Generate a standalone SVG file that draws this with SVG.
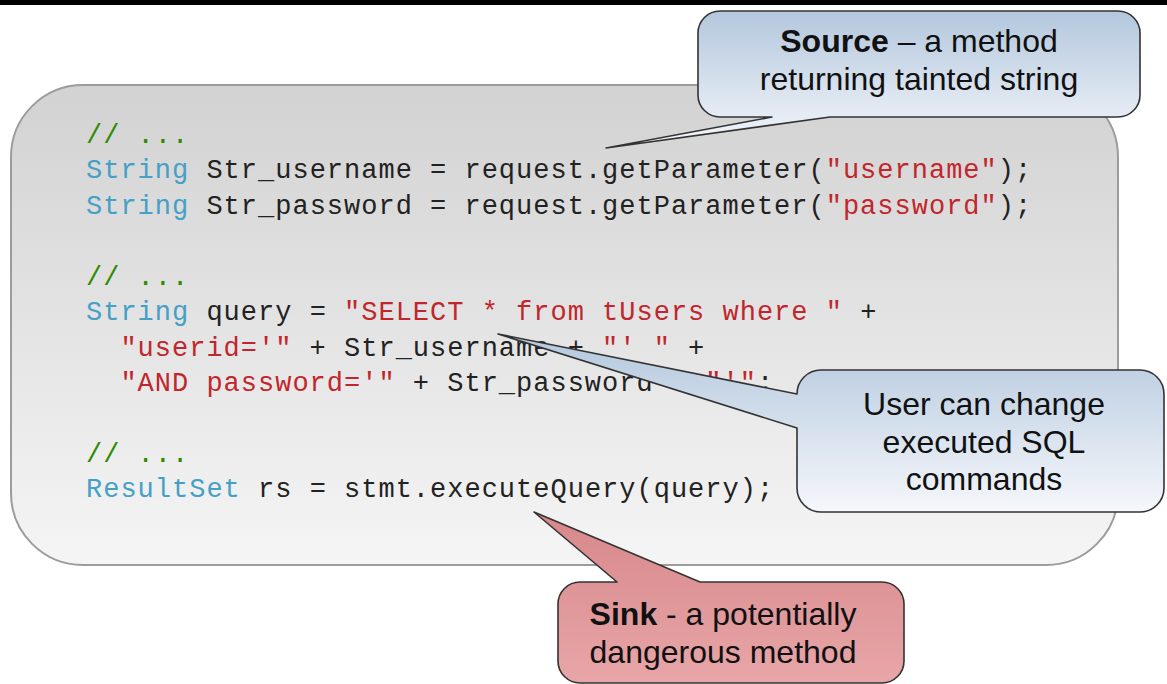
<svg xmlns="http://www.w3.org/2000/svg" width="1167" height="684" viewBox="0 0 1167 684">
  <defs>
    <linearGradient id="codeFill" x1="0" y1="0" x2="0" y2="1">
      <stop offset="0" stop-color="#d2d2d2"/>
      <stop offset="1" stop-color="#f5f5f5"/>
    </linearGradient>
    <linearGradient id="blueFill" x1="0" y1="0" x2="0" y2="1">
      <stop offset="0" stop-color="#b3c7dd"/>
      <stop offset="1" stop-color="#f5f7fb"/>
    </linearGradient>
    <linearGradient id="redFill" x1="0" y1="0" x2="0" y2="1">
      <stop offset="0" stop-color="#d7878a"/>
      <stop offset="1" stop-color="#e8a6a8"/>
    </linearGradient>
    <style>
      .code { font-family: "Liberation Mono", "DejaVu Sans Mono", monospace; font-size: 27px; letter-spacing: 1px; fill: #222; }
      .kw { fill: #45a0c6; }
      .str { fill: #c1262c; }
      .cm { fill: #2f8a00; }
      .note { font-family: "Liberation Sans", Arial, sans-serif; font-size: 32px; fill: #111; text-anchor: middle; }
      .bold { font-weight: bold; }
      .bubble { stroke: #333; stroke-width: 1.6; stroke-linejoin: round; }
    </style>
  </defs>

  <rect width="1167" height="684" fill="#ffffff"/>
  <!-- top bar -->
  <rect x="0" y="0" width="1167" height="5" fill="#000000"/>

  <!-- code block -->
  <g id="code-block">
    <rect x="11" y="85" width="1107" height="480" rx="72" ry="72" fill="url(#codeFill)" stroke="#9c9c9c" stroke-width="2"/>
    <g class="code" xml:space="preserve">
      <text x="86" y="143"><tspan class="cm">// ...</tspan></text>
      <text x="86" y="178"><tspan class="kw">String</tspan> Str_username = request.getParameter(<tspan class="str">"username"</tspan>);</text>
      <text x="86" y="213.5"><tspan class="kw">String</tspan> Str_password = request.getParameter(<tspan class="str">"password"</tspan>);</text>
      <text x="86" y="284.5"><tspan class="cm">// ...</tspan></text>
      <text x="86" y="320"><tspan class="kw">String</tspan> query = <tspan class="str">"SELECT * from tUsers where "</tspan> +</text>
      <text x="120.4" y="355.5"><tspan class="str">"userid='"</tspan> + Str_username + <tspan class="str">"' "</tspan> +</text>
      <text x="120.4" y="391"><tspan class="str">"AND password='"</tspan> + Str_password + <tspan class="str">"'"</tspan>;</text>
      <text x="86" y="462"><tspan class="cm">// ...</tspan></text>
      <text x="86" y="497"><tspan class="kw">ResultSet</tspan> rs = stmt.executeQuery(query);</text>
    </g>
  </g>

  <!-- source callout -->
  <g id="source-callout">
    <path class="bubble" fill="url(#blueFill)" d="M 720,11 H 1118 A 22 22 0 0 1 1140,33 V 95 A 22 22 0 0 1 1118,117 H 830 L 606,148 L 772,117 H 720 A 22 22 0 0 1 698,95 V 33 A 22 22 0 0 1 720,11 Z"/>
    <text class="note" x="919" y="52"><tspan class="bold">Source</tspan> – a method</text>
    <text class="note" x="919" y="90">returning tainted string</text>
  </g>

  <!-- SQL callout -->
  <g id="sql-callout">
    <path class="bubble" fill="url(#blueFill)" d="M 821,370 H 1140 A 24 24 0 0 1 1164,394 V 488 A 24 24 0 0 1 1140,512 H 821 A 24 24 0 0 1 797,488 V 428 L 498,334 L 797,394 A 24 24 0 0 1 821,370 Z"/>
    <text class="note" x="984" y="415">User can change</text>
    <text class="note" x="984" y="452.5">executed SQL</text>
    <text class="note" x="984" y="490">commands</text>
  </g>

  <!-- sink callout -->
  <g id="sink-callout">
    <path class="bubble" fill="url(#redFill)" d="M 580,582 H 617 L 534,512 L 700,582 H 882 A 22 22 0 0 1 904,604 V 661 A 22 22 0 0 1 882,683 H 580 A 22 22 0 0 1 558,661 V 604 A 22 22 0 0 1 580,582 Z"/>
    <text class="note" x="723" y="625"><tspan class="bold">Sink</tspan> - a potentially</text>
    <text class="note" x="723" y="663">dangerous method</text>
  </g>
</svg>
